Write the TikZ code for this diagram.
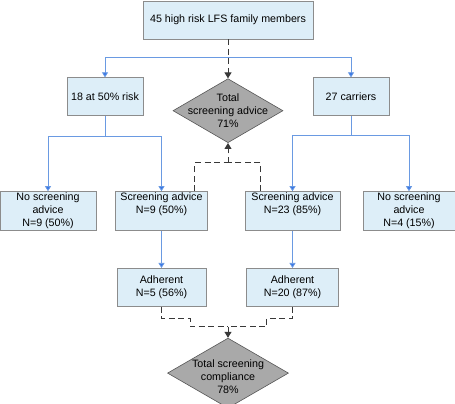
\documentclass[tikz,border=0pt]{standalone}
\usepackage{fontspec}
\setmainfont{Liberation Sans}
\usepackage{tikz}
\usetikzlibrary{arrows.meta, positioning, calc, shapes.geometric}
\definecolor{boxfill}{HTML}{DDEEF8}
\definecolor{boxline}{HTML}{8C8C8C}
\definecolor{splitline}{HTML}{6A9AE2}
\definecolor{splittip}{HTML}{3A78E6}
\definecolor{dashgray}{HTML}{383838}
\definecolor{totalfill}{HTML}{A9A9A9}

\begin{document}
\begin{tikzpicture}[x=1pt, y=1pt, font=\fontsize{10.7}{13}\selectfont,
    box/.style={rectangle, draw=boxline, fill=boxfill, line width=0.8pt, align=center, inner sep=0pt, minimum height=38pt},
    total/.style={diamond, draw=dashgray!85, fill=totalfill, line width=0.6pt, inner sep=0pt},
    blueline/.style={draw=splitline, line width=0.7pt, -{Triangle[length=5pt, width=6pt, fill=splittip]}},
    dashline/.style={draw=dashgray, line width=1pt, dash pattern=on 6pt off 3.5pt},
    dasharrow/.style={dashline, -{Triangle[length=6pt, width=7pt]}}]
    \useasboundingbox (0,0) rectangle (455,404);

    \node[box, minimum width=170pt] (members) at (228,384) {45 high risk LFS family members};
    \node[box, minimum width=76pt, below=38pt of members, xshift=-123pt] (risk) {18 at 50\% risk};
    \node[box, minimum width=76pt, below=38pt of members, xshift=123pt] (carriers) {27 carriers};
    \node[total, minimum width=110pt, minimum height=64pt, below=39pt of members] (advice) {};
    \node[align=center] at (advice) {Total\\screening advice\\71\%};

    \node[box, minimum width=96pt, minimum height=39pt, below=75pt of risk, xshift=-57pt] (noadviceL) {No screening\\advice\\N=9 (50\%)};
    \node[box, minimum width=92pt, minimum height=39pt, below=75pt of risk, xshift=56.5pt] (adviceL) {Screening advice\\N=9 (50\%)\\[2pt]};
    \node[box, minimum width=95pt, minimum height=39pt, below=75pt of carriers, xshift=-58.5pt] (adviceR) {Screening advice\\N=23 (85\%)\\[2pt]};
    \node[box, minimum width=92pt, minimum height=39pt, below=75pt of carriers, xshift=58pt] (noadviceR) {No screening\\advice\\N=4 (15\%)};

    \node[box, minimum width=89pt, below=37pt of adviceL] (adherentL) {Adherent\\N=5 (56\%)};
    \node[box, minimum width=92pt, below=37pt of adviceR] (adherentR) {Adherent\\N=20 (87\%)};
    \node[total, minimum width=121pt, minimum height=70pt, below=31pt of adherentL, xshift=66.5pt] (compliance) {};
    \node[align=center, yshift=-4pt] at (compliance) {Total screening\\compliance\\78\%};

    % split points
    \coordinate[below=18pt of members.south] (split);
    \coordinate[below=20pt of advice.south] (advicejoin);
    \coordinate[above=11pt of compliance.north] (compliancejoin);

    % blue branches
    \draw[blueline] (split) -| (risk);
    \draw[blueline] (split) -| (carriers);
    \draw[blueline] (risk.south) -- ++(0,-20) -| (noadviceL);
    \draw[blueline] (risk.south) -- ++(0,-20) -| (adviceL);
    \draw[blueline] (carriers.south) -- ++(0,-19) -| (adviceR);
    \draw[blueline] (carriers.south) -- ++(0,-19) -| (noadviceR);
    \draw[blueline] (adviceL) -- (adherentL);
    \draw[blueline] (adviceR) -- (adherentR);

    % dashed totals
    \draw[dasharrow] (members.south) -- (advice.north);
    \draw[dashline] ([xshift=-13pt]adviceL.north east) |- (advicejoin);
    \draw[dashline] ([xshift=16pt]adviceR.north west) |- (advicejoin);
    \draw[dasharrow] (advicejoin) -- (advice.south);
    \draw[dashline] (adherentL.south) |- ++(28.5,-11.7) |- (compliancejoin);
    \draw[dashline] (adherentR.south) |- ++(-25.8,-11.7) |- (compliancejoin);
    \draw[dasharrow] (compliancejoin) -- (compliance.north);
\end{tikzpicture}
\end{document}
